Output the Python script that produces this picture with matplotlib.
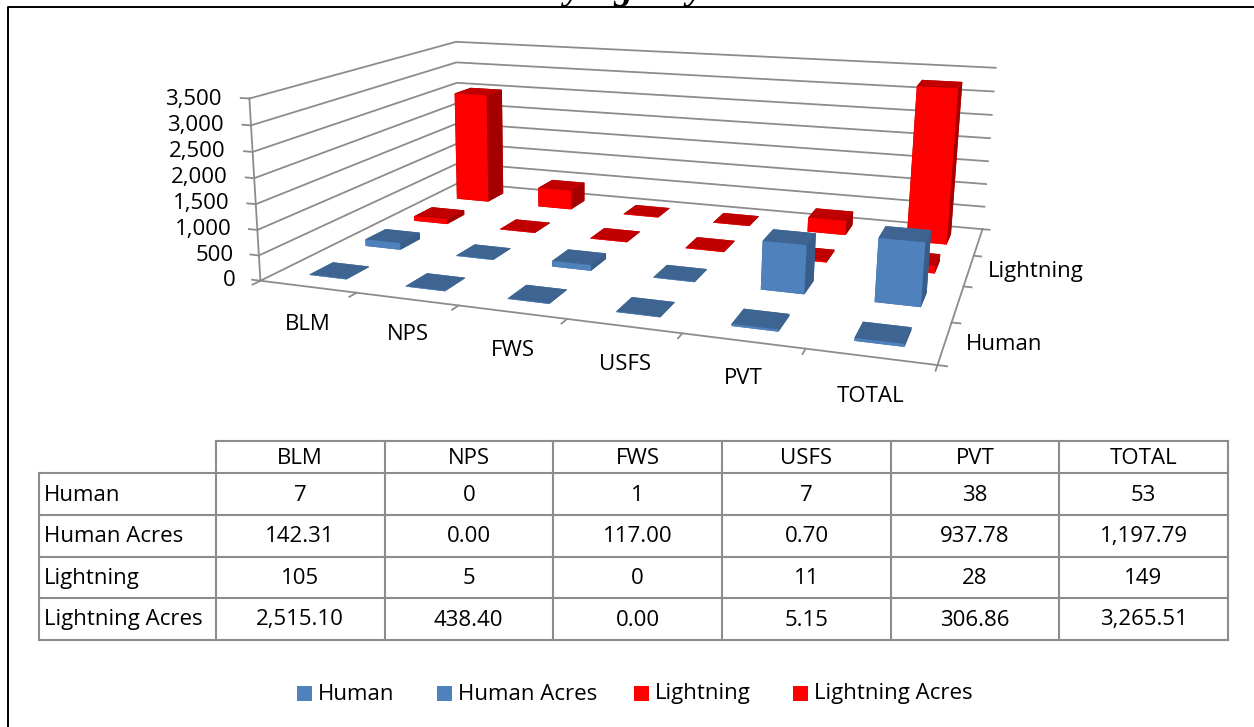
import numpy as np
import matplotlib
matplotlib.use("Agg")
import matplotlib.pyplot as plt
from mpl_toolkits.mplot3d.axes3d import Axes3D

plt.rcParams['font.family'] = ['Open Sans', 'DejaVu Sans']

categories = ['BLM', 'NPS', 'FWS', 'USFS', 'PVT', 'TOTAL']
series_names = ['Human', 'Human Acres', 'Lightning', 'Lightning Acres']
human = [7, 0, 1, 7, 38, 53]
human_acres = [142.31, 0.00, 117.00, 0.70, 937.78, 1197.79]
lightning = [105, 5, 0, 11, 28, 149]
lightning_acres = [2515.10, 438.40, 0.00, 5.15, 306.86, 3265.51]
human_text = ['7', '0', '1', '7', '38', '53']
human_acres_text = ['142.31', '0.00', '117.00', '0.70', '937.78', '1,197.79']
lightning_text = ['105', '5', '0', '11', '28', '149']
lightning_acres_text = ['2,515.10', '438.40', '0.00', '5.15', '306.86', '3,265.51']
z_ticks = [0, 500, 1000, 1500, 2000, 2500, 3000, 3500]
z_tick_labels = ['0', '500', '1,000', '1,500', '2,000', '2,500', '3,000', '3,500']

W, H = 1254, 727
fig = plt.figure(figsize=(W / 100, H / 100), dpi=100, facecolor='white')

bg = fig.add_axes([0, 0, 1, 1], zorder=0)
bg.set_xlim(0, W); bg.set_ylim(H, 0); bg.axis('off')

world = np.array([[0, 0, 0], [0, 0, 3500], [6, 0, 0], [6, 4, 0], [6, 4, 3500], [0, 4, 0], [0, 4, 3500]], float)
pix = np.array([[261.7, 279.5], [248.0, 99], [937.5, 366], [983, 228], [995, 68.3], [457.5, 184], [457.5, 41]], float)
scale = np.array([1, 1, 1 / 500.0])
rows = []
for (X, Y, Z), (u, v) in zip(world * scale, pix):
    rows.append([X, Y, Z, 1, 0, 0, 0, 0, -u * X, -u * Y, -u * Z, -u])
    rows.append([0, 0, 0, 0, X, Y, Z, 1, -v * X, -v * Y, -v * Z, -v])
_, _, vt = np.linalg.svd(np.array(rows))
P = vt[-1].reshape(3, 4)
P = P / P[2, 3]
P[:, 2] = P[:, 2] * scale[2]


class PinnedAxes3D(Axes3D):
    def apply_aspect(self, position=None):
        pass

    def get_proj(self):
        inv = self.transData.inverted()
        o, ex, ey = inv.transform([[0, H], [1, H], [0, H - 1]])
        A = np.array([[ex[0] - o[0], ey[0] - o[0], o[0]],
                      [ex[1] - o[1], ey[1] - o[1], o[1]],
                      [0, 0, 1]])
        Q = A @ P
        M = np.zeros((4, 4))
        M[0], M[1], M[3] = Q[0], Q[1], Q[2]
        M[2] = -2 * Q[2] - np.array([0, 0, 0, 1.0])
        return M


ax = PinnedAxes3D(fig, rect=[0, 0, 1, 1], computed_zorder=False, proj_type='ortho')
fig.add_axes(ax)
ax.set_position([0, 0, 1, 1])
ax.set_axis_off()
ax.patch.set_alpha(0)
ax.set_zorder(1)

GRID = '#8c8c8c'
LW = 1.3
for z in z_ticks:
    ax.plot([0, 0, 6], [0, 4, 4], [z, z, z], color=GRID, lw=LW, zorder=1)
    ax.plot([0, -0.09], [0, 0], [z, z], color=GRID, lw=LW, zorder=1)
ax.plot([0, 0], [0, 0], [0, 3500], color=GRID, lw=LW, zorder=1)
ax.plot([0, 6, 6], [0, 0, 4], [0, 0, 0], color=GRID, lw=LW, zorder=1)
for i in range(7):
    ax.plot([i, i], [0, -0.12], [0, 0], color=GRID, lw=LW, zorder=1)
for j in range(5):
    ax.plot([6, 6.07], [j, j], [0, 0], color=GRID, lw=LW, zorder=1)

BLUE = ('#4F81BD', '#3E6592', '#385D8A')
RED = ('#FF0000', '#C00000', '#A50000')
series = [human, human_acres, lightning, lightning_acres]
styles = [BLUE, BLUE, RED, RED]
BAR_W, BAR_D = 0.39, 0.40
for j in reversed(range(4)):
    front, top, side = styles[j]
    for i, v in enumerate(series[j]):
        h = max(v, 12)
        ax.bar3d(i + 0.52 - BAR_W / 2, j + 0.5 - BAR_D / 2, 0, BAR_W, BAR_D, h,
                 color=[top, top, front, top, side, side], shade=False,
                 edgecolor='none', zorder=10 + (3 - j) * 10 + i * 0.1)

tx = dict(fontsize=16, color='black')
cat_pos = [(308, 324), (408, 335), (513, 350), (625, 365), (743, 379), (871, 396)]
for name, (x, y) in zip(categories, cat_pos):
    bg.text(x, y, name, ha='center', va='center', **tx)
for lab, yy, xr in zip(z_tick_labels, np.linspace(281, 100, 8), np.linspace(236, 222, 8)):
    bg.text(xr, yy, lab, ha='right', va='center', **tx)
bg.text(988, 272, 'Lightning', ha='left', va='center', **tx)
bg.text(966, 345, 'Human', ha='left', va='center', **tx)

bg.plot([8, 8, 1254], [H + 5, 7, 7], color='black', lw=1.4, clip_on=False)
bg.text(625, -1, 'by Agency', family='Liberation Serif', style='italic', weight='bold',
        fontsize=27, ha='center', va='baseline', color='black', clip_on=True)

xs = [38.8, 215.5, 384.5, 553, 722, 891, 1059, 1228]
ys = [441, 473.3, 515, 556.7, 598, 640]
TL = '#8c8c8c'
for k, y in enumerate(ys):
    bg.plot([xs[1] if k == 0 else xs[0], xs[-1]], [y, y], color=TL, lw=1.5)
for k, x in enumerate(xs):
    bg.plot([x, x], [ys[1] if k == 0 else ys[0], ys[-1]], color=TL, lw=1.5)
for c, name in enumerate(categories):
    bg.text((xs[c + 1] + xs[c + 2]) / 2, (ys[0] + ys[1]) / 2 + 1, name, ha='center', va='center', **tx)
table_text = [human_text, human_acres_text, lightning_text, lightning_acres_text]
for r, (name, vals) in enumerate(zip(series_names, table_text)):
    yc = (ys[r + 1] + ys[r + 2]) / 2 + 1
    bg.text(xs[0] + 5, yc, name, ha='left', va='center', **tx)
    for c, val in enumerate(vals):
        bg.text((xs[c + 1] + xs[c + 2]) / 2, yc, val, ha='center', va='center', **tx)

leg_x = [297, 437, 634, 793]
leg_c = ['#4F81BD', '#4F81BD', '#FF0000', '#FF0000']
for x, c, name in zip(leg_x, leg_c, series_names):
    bg.add_patch(plt.Rectangle((x, 686), 15, 15, color=c, lw=0))
    bg.text(x + 21, 694, name, ha='left', va='center', **tx)

fig.savefig('out.png', dpi=100, facecolor='white')
